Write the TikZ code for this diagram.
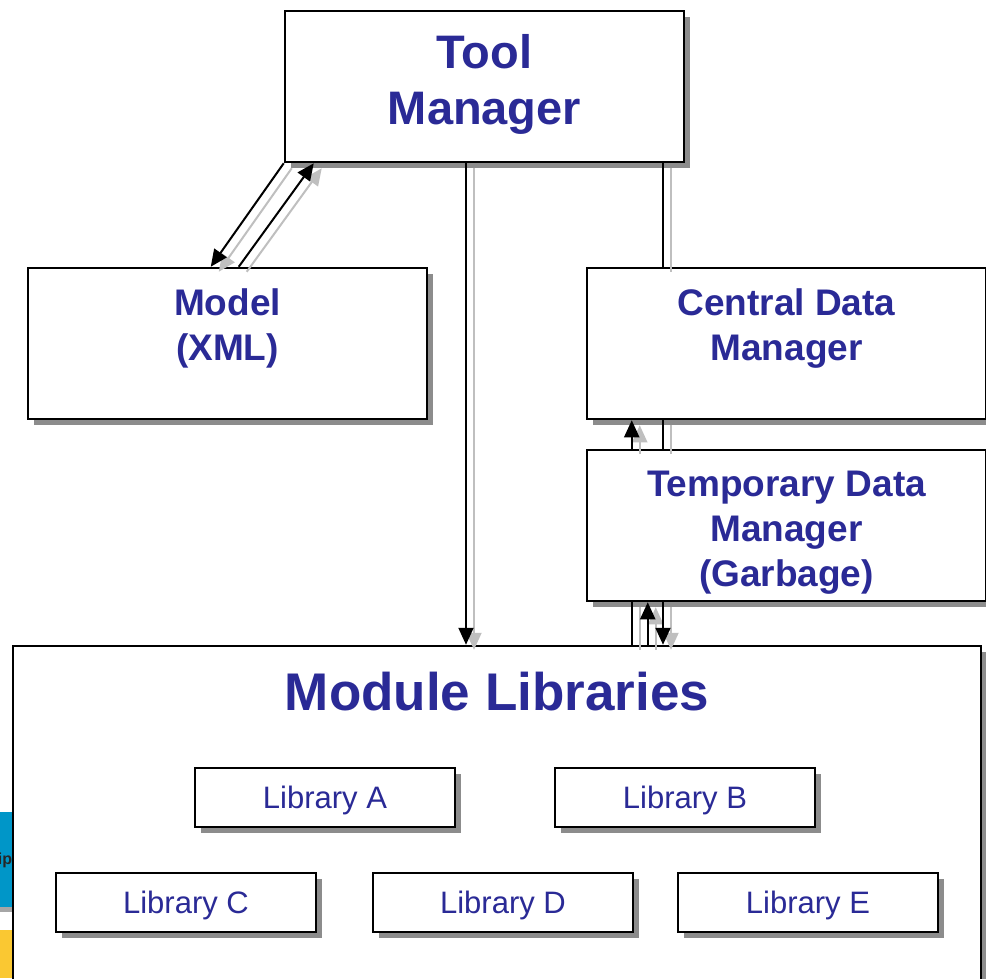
\documentclass[tikz,border=0pt]{standalone}
\usepackage{fontspec}
\setmainfont{Liberation Sans}
\usetikzlibrary{arrows.meta,shadows}
\definecolor{titleblue}{RGB}{42,42,150}
\definecolor{clipblue}{RGB}{0,150,200}
\definecolor{clipyellow}{RGB}{250,200,50}
\tikzset{
  box/.style={draw=black, line width=2.5pt, fill=white, inner sep=0pt,
    drop shadow={shadow xshift=6pt, shadow yshift=-6pt, fill=black!45, opacity=1}},
  bigbox/.style={box, minimum width=399pt, minimum height=151pt},
  libbox/.style={box, minimum width=260pt, minimum height=59pt, text depth=0pt,
    text=titleblue, font=\fontsize{31}{37}\selectfont},
  head/.style={text=titleblue, align=center, font=\bfseries\fontsize{37}{45}\selectfont},
  link/.style={line width=2pt},
  tip/.style={-{Triangle[length=17pt,width=15pt]}}
}
\begin{document}
\begin{tikzpicture}[x=1pt, y=-1pt]
  \clip (0,0) rectangle (986,978);

  % cut-off picture at the left edge
  \fill[clipblue] (0,812) rectangle (13,907);
  \fill[black!35] (0,907) rectangle (13,912);
  \fill[clipyellow] (0,930) rectangle (13,978);
  \node[font=\bfseries\fontsize{16}{16}\selectfont, text=black!85] (clipname) at (5,860) {ip};

  % boxes
  \node[bigbox] (tool) at (484.5,86.5) {};
  \node[head, font=\bfseries\fontsize{47}{56}\selectfont] (tooltxt) at (484.5,84) {Tool\\Manager};

  \node[bigbox] (model) at (227.5,343.5) {};
  \node[head] (modeltxt) at (227.5,328) {Model\\(XML)};

  \node[bigbox] (cdm) at (786.5,343.5) {};
  \node[head] (cdmtxt) at (786.5,329) {Central Data\\Manager};

  \node[bigbox] (tdm) at (786.5,525.5) {};
  \node[head] (tdmtxt) at (786.5,533) {Temporary Data\\Manager\\(Garbage)};

  \node[box, minimum width=968pt, minimum height=360pt] (modlib) at (497,826) {};
  \node[head, font=\bfseries\fontsize{53}{60}\selectfont] (modlibtxt) at (497,692) {Module Libraries};

  \node[libbox] (libA) at (325,797.5) {Library A};
  \node[libbox] (libB) at (685,797.5) {Library B};
  \node[libbox] (libC) at (186,902.5) {Library C};
  \node[libbox] (libD) at (503,902.5) {Library D};
  \node[libbox] (libE) at (808,902.5) {Library E};

  % connector points
  \coordinate (m1) at ([xshift=184pt]model.north west);
  \coordinate (m2) at ([xshift=212pt]model.north west);
  \coordinate (t2) at ([xshift=30pt]tool.south west);
  \coordinate (a1) at ([xshift=-18.5pt]tool.south);
  \coordinate (a2) at ([xshift=178.5pt]tool.south);
  \coordinate (a3) at ([xshift=46pt]tdm.south west);
  \coordinate (a4) at ([xshift=62pt]tdm.south west);

  % connectors: grey shade first, then black
  \foreach \col/\dx/\dy in {black!25/8/5, black/0/0} {
    \begin{scope}[draw=\col, fill=\col, transform canvas={xshift=\dx pt, yshift=-\dy pt}]
      \draw[link, tip] (tool.south west) -- (m1);
      \draw[link, tip] (m2) -- (t2);
      \draw[link, tip] (a1) -- (a1 |- modlib.north);
      \draw[link] (a2) -- (a2 |- cdm.north);
      \draw[link] (a2 |- cdm.south) -- (a2 |- tdm.north);
      \draw[link, tip] (a2 |- tdm.south) -- (a2 |- modlib.north);
      \draw[link, tip] (a3 |- tdm.north) -- (a3 |- cdm.south);
      \draw[link] (a3 |- modlib.north) -- (a3);
      \draw[link, tip] (a4 |- modlib.north) -- (a4);
    \end{scope}
  }
\end{tikzpicture}
\end{document}
